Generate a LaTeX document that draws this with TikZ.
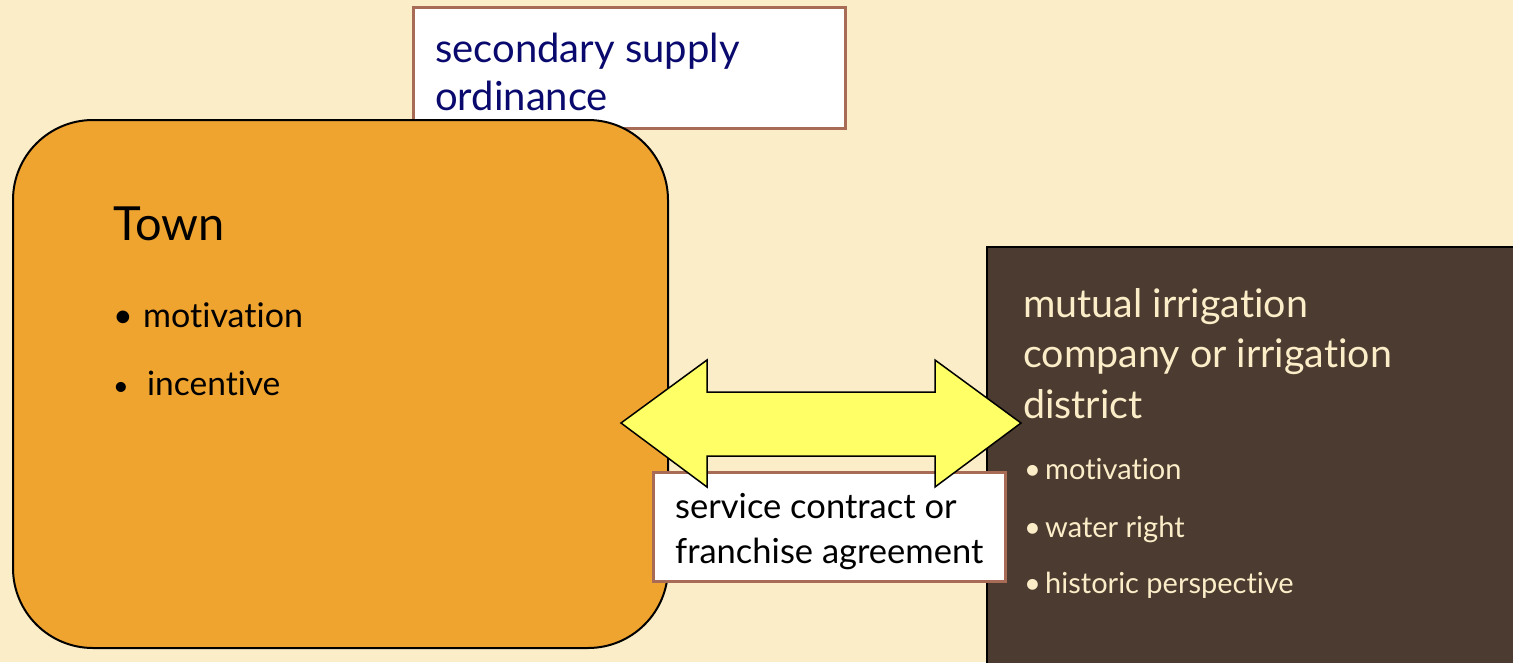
\documentclass[tikz,border=0pt]{standalone}
\usepackage{fontspec}
\setmainfont[Ligatures={NoCommon,NoRare}]{Lato}
\definecolor{bg}{HTML}{FBEDC8}
\definecolor{townfill}{HTML}{F0A430}
\definecolor{darkbox}{HTML}{4C3B30}
\definecolor{cream}{HTML}{FBEDC8}
\definecolor{brownline}{HTML}{A86B55}
\definecolor{navy}{HTML}{0A0A6E}
\definecolor{arrowyellow}{HTML}{FFFF66}
\begin{document}
\begin{tikzpicture}[x=1pt,y=-1pt,
  txt/.style={inner sep=0pt,anchor=base west},
  whitebox/.style={draw=brownline,fill=white,line width=3pt},
  fs/.style={font=\fontsize{#1}{#1}\selectfont}]
\useasboundingbox (0,0) rectangle (1513,662);
\fill[bg] (0,0) rectangle (1513,662);
% secondary supply box
\draw[whitebox] (413,7) rectangle (845,128);
\node[txt,fs=40,text=navy] (s1) at (435,62) {secondary supply};
\node[txt,fs=40,text=navy] (s2) at (435,110) {ordinance};
% Town box
\draw[fill=townfill,draw=black,line width=2pt,rounded corners=80pt] (13,120) rectangle (668,648);
\node[txt,fs=47] (town) at (113,240) {Town};
\node[txt,fs=34] (tb1) at (113,327) {•};
\node[txt,fs=34] (t1) at (143,327) {motivation};
\node[txt,fs=27] (tb2) at (113,395) {•};
\node[txt,fs=33.5] (t2) at (147,395) {incentive};
% dark box
\draw[fill=darkbox,draw=black,line width=2pt] (987,247) rectangle (1530,680);
\node[txt,fs=39.4,text=cream] (m1) at (1023,317) {mutual irrigation};
\node[txt,fs=39.4,text=cream] (m2) at (1023,367) {company or irrigation};
\node[txt,fs=39.4,text=cream] (m3) at (1023,418) {district};
\node[txt,fs=29,text=cream] (mb1) at (1024,479) {•};
\node[txt,fs=29,text=cream] (r1) at (1045,479) {motivation};
\node[txt,fs=29,text=cream] (mb2) at (1024,537) {•};
\node[txt,fs=29,text=cream] (r2) at (1045,537) {water right};
\node[txt,fs=29,text=cream] (mb3) at (1024,593) {•};
\node[txt,fs=29,text=cream] (r3) at (1045,593) {historic perspective};
% service contract box
\draw[whitebox] (653,472) rectangle (1005,581);
\node[txt,fs=34.5] (c1) at (675,518) {service contract or};
\node[txt,fs=34.5] (c2) at (675,563) {franchise agreement};
% double arrow
\draw[fill=arrowyellow,draw=black,line width=1.5pt,line join=miter]
  (621,423) -- (707,360) -- (707,392) -- (935,392) -- (935,360) -- (1021,423)
  -- (935,487) -- (935,456) -- (707,456) -- (707,487) -- cycle;
\end{tikzpicture}
\end{document}
